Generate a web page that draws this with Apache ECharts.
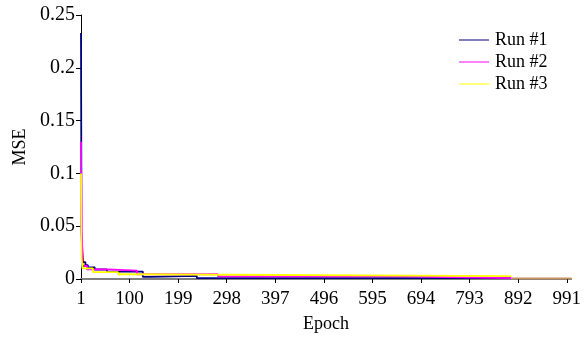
<!DOCTYPE html>
<html>
<head>
<meta charset="utf-8">
<script src="https://cdn.jsdelivr.net/npm/echarts@6/dist/echarts.min.js"></script>
<style>
html, body { margin: 0; padding: 0; background: #fff; }
#chart { width: 584px; height: 345px; }
</style>
</head>
<body>
<div id="chart"></div>
<script>
// step change points: [epoch, mse]
const run1 = [[1, 0.233], [2, 0.045], [3, 0.034], [5, 0.016], [10, 0.013], [15, 0.011], [29, 0.009], [54, 0.007], [127, 0.002], [141, 0.003], [237, 0.0009], [877, 0.0009]];
const run2 = [[1, 0.13], [2, 0.045], [3, 0.03], [4, 0.0123], [13, 0.0092], [54, 0.0079], [115, 0.0045], [280, 0.0025], [656, 0.0009], [877, 0.0009]];
const run3 = [[1, 0.1], [2, 0.019], [4, 0.010], [25, 0.0066], [76, 0.0045], [100, 0.0027], [877, 0.0027]];
const tail = [[877, 0.0005], [1000, 0.0005]];
const xTicks = [1, 100, 199, 298, 397, 496, 595, 694, 793, 892, 991];
const names = ['Run #1', 'Run #2', 'Run #3'];
const colors = ['#000080', '#ff00ff', '#ffff00'];

const font = 'Liberation Serif';
const chart = echarts.init(document.getElementById('chart'));

function line (name, data, color) {
  return {
    name: name,
    type: 'line',
    step: 'end',
    data: data,
    symbol: 'none',
    lineStyle: { width: 1.8, color: color },
    itemStyle: { color: color }
  };
}

chart.setOption({
  animation: false,
  grid: { left: 81, right: 11, top: 15, bottom: 66 },
  legend: {
    data: names,
    orient: 'vertical',
    left: 454,
    top: 26,
    itemGap: 4,
    itemWidth: 30,
    itemHeight: 1,
    icon: 'rect',
    textStyle: { fontFamily: font, fontSize: 18, color: '#000', padding: [0, 0, 0, 1] }
  },
  xAxis: {
    type: 'value',
    min: 1,
    max: 1000,
    name: 'Epoch',
    nameLocation: 'middle',
    nameGap: 36,
    nameTextStyle: { fontFamily: font, fontSize: 18, color: '#000' },
    splitLine: { show: false },
    axisLine: { lineStyle: { color: '#808080', width: 2 } },
    axisTick: { customValues: xTicks, length: 4, lineStyle: { color: '#000' } },
    axisLabel: { customValues: xTicks, margin: 11, fontFamily: font, fontSize: 19, color: '#000' }
  },
  yAxis: {
    type: 'value',
    min: 0,
    max: 0.25,
    interval: 0.05,
    name: 'MSE',
    nameLocation: 'middle',
    nameGap: 51,
    nameTextStyle: { fontFamily: font, fontSize: 18, color: '#000' },
    splitLine: { show: false },
    axisLine: { show: true, lineStyle: { color: '#000', width: 1 } },
    axisTick: { show: true, length: 5, lineStyle: { color: '#000' } },
    axisLabel: { margin: 6, fontFamily: font, fontSize: 20, color: '#000' }
  },
  series: [
    line(names[0], run1, colors[0]),
    line(names[1], run2, colors[1]),
    line(names[2], run3, colors[2]),
    line('tail', tail, '#c8905a')
  ]
});
</script>
</body>
</html>
